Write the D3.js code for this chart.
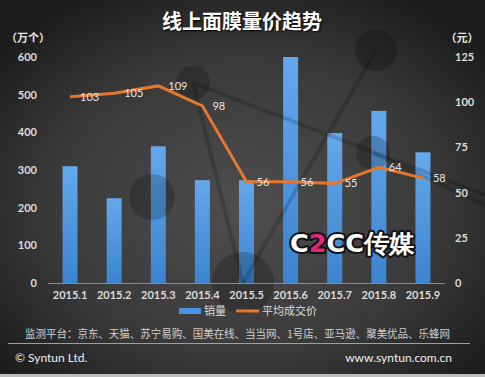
<!DOCTYPE html>
<html><head><meta charset="utf-8">
<script src="https://cdn.jsdelivr.net/npm/d3@7"></script>
<style>html,body{margin:0;padding:0;background:#222;}svg{display:block;}</style>
</head><body>
<script>
const categories = ["2015.1","2015.2","2015.3","2015.4","2015.5","2015.6","2015.7","2015.8","2015.9"];
const sales = [310, 225, 363, 273, 273, 600, 398, 457, 347];
const prices = [103, 105, 109, 98, 56, 56, 55, 64, 58];
const leftTicks = [0, 100, 200, 300, 400, 500, 600];
const rightTicks = [0, 25, 50, 75, 100, 125];
const title = "线上面膜量价趋势";
const leftUnit = "（万个）";
const rightUnit = "（元）";
const legendLabels = ["销量", "平均成交价"];
const sourceText = "监测平台：京东、天猫、苏宁易购、国美在线、当当网、1号店、亚马逊、聚美优品、乐蜂网";
const footerLeft = "© Syntun Ltd.";
const footerRight = "www.syntun.com.cn";

const W = 485, H = 377;
const svg = d3.select("body").append("svg").attr("width", W).attr("height", H);
const defs = svg.append("defs");
const bg = defs.append("radialGradient").attr("id","bg").attr("cx","50%").attr("cy","55%").attr("r","65%");
bg.append("stop").attr("offset","0%").attr("stop-color","#4e4e4e");
bg.append("stop").attr("offset","60%").attr("stop-color","#3a3a3a");
bg.append("stop").attr("offset","100%").attr("stop-color","#1c1c1c");
const bar = defs.append("linearGradient").attr("id","bar").attr("x1",0).attr("x2",0).attr("y1",0).attr("y2",1);
bar.append("stop").attr("offset","0%").attr("stop-color","#64a8ec");
bar.append("stop").attr("offset","100%").attr("stop-color","#3c84d0");

svg.append("rect").attr("width",W).attr("height",H).attr("fill","url(#bg)");

const x = d3.scaleBand().domain(categories).range([48,445]).paddingInner(0).paddingOuter(0);
const yL = d3.scaleLinear().domain([0,600]).range([283,57]);
const yR = d3.scaleLinear().domain([0,125]).range([283,57]);
const bw = 15;

// bars
svg.append("g").selectAll("rect").data(sales).join("rect")
  .attr("x",(d,i)=>x(categories[i])+x.bandwidth()/2-bw/2)
  .attr("y",d=>yL(d)).attr("width",bw).attr("height",d=>yL(0)-yL(d))
  .attr("fill","url(#bar)");

// decorative network (semi-transparent, over bars)
const deco = svg.append("g");
[[193,83,243,283],[193,83,485,195],[376,50,243,283],[373,153,485,205]].forEach(l=>{
  deco.append("line").attr("x1",l[0]).attr("y1",l[1]).attr("x2",l[2]).attr("y2",l[3]).attr("stroke","#000").attr("stroke-width",4).attr("stroke-opacity",0.16);
});
[[376,50,21],[193,83,17],[152,197,23],[243,283,31],[373,153,17]].forEach(c=>{
  deco.append("circle").attr("cx",c[0]).attr("cy",c[1]).attr("r",c[2]).attr("fill","#000").attr("fill-opacity",0.2);
});

// baseline
svg.append("line").attr("x1",48).attr("x2",445).attr("y1",yL(0)+0.5).attr("y2",yL(0)+0.5).attr("stroke","#8a8a8a").attr("stroke-width",1);

// axes
const axL = svg.append("g").attr("transform","translate(37,0)")
  .call(d3.axisLeft(yL).tickValues(leftTicks).tickSize(0).tickPadding(0));
const axR = svg.append("g").attr("transform","translate(455,0)")
  .call(d3.axisRight(yR).tickValues(rightTicks).tickSize(0).tickPadding(0));
const axX = svg.append("g").attr("transform","translate(0,"+yL(0)+")")
  .call(d3.axisBottom(x).tickSize(0).tickPadding(8));
[axL,axR,axX].forEach(a=>{
  a.select(".domain").remove();
  a.selectAll("text").attr("fill","#dcdcdc").attr("font-family","Lato, 'Open Sans', sans-serif").attr("font-size",11).attr("font-weight","bold");
});

// line
const line = d3.line().x((d,i)=>x(categories[i])+x.bandwidth()/2).y(d=>yR(d));
svg.append("path").datum(prices).attr("d",line).attr("fill","none").attr("stroke","#e3782e").attr("stroke-width",3).attr("stroke-linejoin","miter");
svg.append("g").selectAll("text").data(prices).join("text")
  .attr("x",(d,i)=>x(categories[i])+x.bandwidth()/2+10).attr("y",d=>yR(d)).attr("dy","0.35em")
  .attr("fill","#e6e6e6").attr("font-family","Lato, 'Open Sans', sans-serif").attr("font-size",11)
  .text(d=>d);

// title & units
svg.append("text").attr("x",242).attr("y",29).attr("text-anchor","middle").attr("fill","#fff")
  .attr("font-family","'Noto Sans CJK SC', sans-serif").attr("font-weight","bold").attr("font-size",20)
  .style("text-shadow","1px 1px 2px #000").text(title);
svg.append("text").attr("x",28).attr("y",42).attr("text-anchor","middle").attr("fill","#e6e6e6")
  .attr("font-family","'Noto Sans CJK SC', sans-serif").attr("font-weight","bold").attr("font-size",11).text(leftUnit);
svg.append("text").attr("x",462).attr("y",42).attr("text-anchor","middle").attr("fill","#e6e6e6")
  .attr("font-family","'Noto Sans CJK SC', sans-serif").attr("font-weight","bold").attr("font-size",11).text(rightUnit);

// legend
const lg = svg.append("g");
lg.append("rect").attr("x",179).attr("y",308).attr("width",22).attr("height",6).attr("fill","#4a93e0");
lg.append("text").attr("x",204).attr("y",315).attr("fill","#dcdcdc").attr("font-family","'Noto Sans CJK SC', sans-serif").attr("font-size",11).text(legendLabels[0]);
lg.append("line").attr("x1",236).attr("x2",259).attr("y1",311).attr("y2",311).attr("stroke","#e3782e").attr("stroke-width",3);
lg.append("text").attr("x",262).attr("y",315).attr("fill","#dcdcdc").attr("font-family","'Noto Sans CJK SC', sans-serif").attr("font-size",11).text(legendLabels[1]);

// source
svg.append("text").attr("x",25).attr("y",338).attr("fill","#d0d0d0")
  .attr("font-family","'Noto Sans CJK SC', sans-serif").attr("font-size",11)
  .attr("textLength",425).attr("lengthAdjust","spacingAndGlyphs").text(sourceText);
svg.append("line").attr("x1",8).attr("x2",470).attr("y1",343.5).attr("y2",343.5).attr("stroke","#a0a0a0").attr("stroke-width",1);
svg.append("text").attr("x",15).attr("y",362).attr("fill","#f0f0f0").attr("font-family","Lato, 'Open Sans', sans-serif").attr("font-size",12).text(footerLeft);
svg.append("text").attr("x",452).attr("y",362).attr("text-anchor","end").attr("fill","#f0f0f0").attr("font-family","Lato, 'Open Sans', sans-serif").attr("font-size",12).text(footerRight);
svg.append("rect").attr("x",0).attr("y",374).attr("width",W).attr("height",3).attr("fill","#bdbdbd");

// watermark
const wm = svg.append("text").attr("x",290).attr("y",252).attr("font-family","'DejaVu Sans', sans-serif").attr("font-weight","bold").attr("font-size",25)
  .attr("stroke","#111").attr("stroke-width",4).attr("paint-order","stroke").attr("stroke-linejoin","round")
  .attr("textLength",125).attr("lengthAdjust","spacingAndGlyphs");
wm.append("tspan").attr("fill","#fff").text("C");
wm.append("tspan").attr("fill","#e0287f").text("2");
wm.append("tspan").attr("fill","#fff").text("CC传媒");
</script>
</body></html>
